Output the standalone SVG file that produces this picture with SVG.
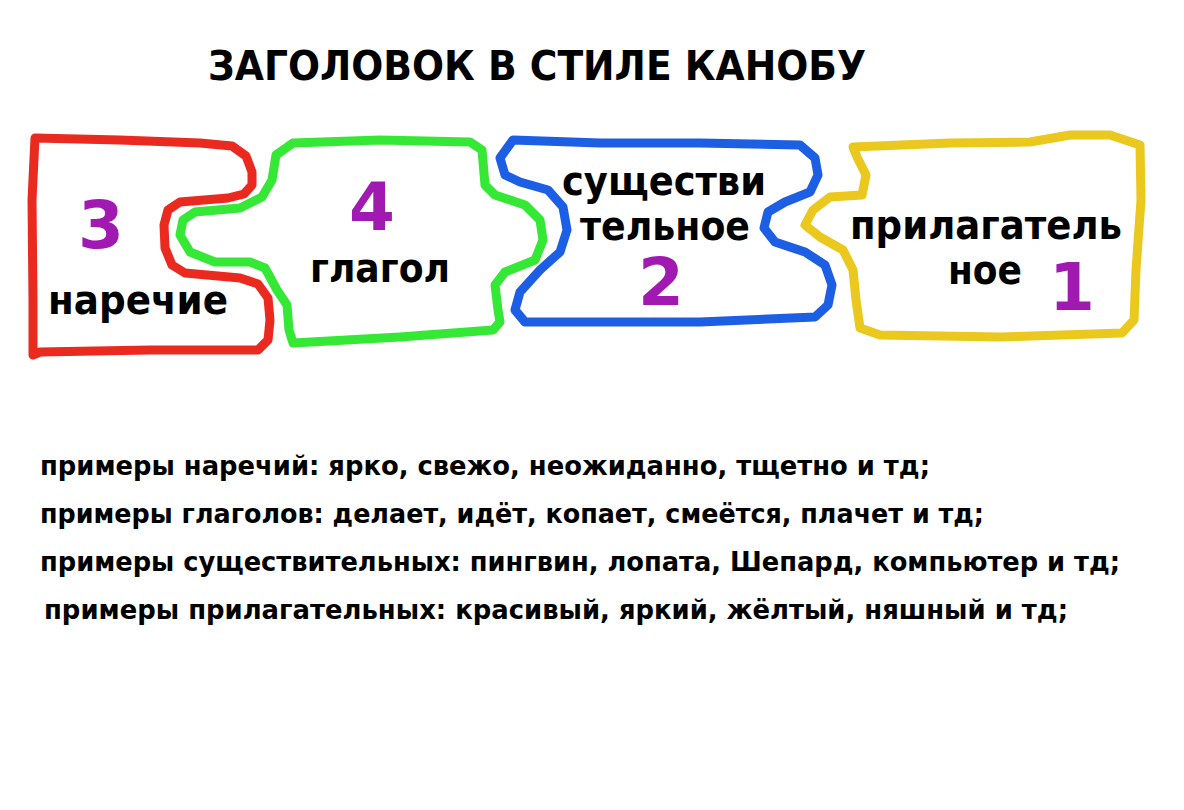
<svg xmlns="http://www.w3.org/2000/svg" width="1184" height="810" viewBox="0 0 1184 810">
<style>
.t{font-family:"DejaVu Sans","Noto Sans",sans-serif;font-weight:bold;fill:#000}
.n{font-family:"DejaVu Sans","Noto Sans",sans-serif;font-weight:bold;fill:#a01ab2;font-size:66px;text-anchor:middle}
.o{fill:none;stroke-width:9;stroke-linejoin:round;stroke-linecap:round}
</style>
<rect width="1184" height="810" fill="#fff"/>
<text class="t" x="208" y="80" font-size="41" textLength="658" lengthAdjust="spacingAndGlyphs">ЗАГОЛОВОК В СТИЛЕ КАНОБУ</text>
<g id="connectors"></g>
<g id="node-3">
<path class="o" stroke="#ea2a1e" d="M35,138 L120,140 L200,143 L232,146 L246,156 L252,172 L252,185 L244,194 L228,198 L180,202 L168,210 L164,225 L165,248 L172,265 L185,273 L240,278 L258,284 L268,298 L270,320 L268,340 L258,350 L150,350 L40,352 L33,355 L33,300 L32,200 Z"/>
<text class="n" x="101" y="248">3</text>
<text class="t" x="48" y="314" font-size="41" textLength="180" lengthAdjust="spacingAndGlyphs">наречие</text>
</g>
<g id="node-4">
<path class="o" stroke="#35e835" d="M293,143 L380,140 L470,142 L482,150 L485,185 L495,195 L525,205 L540,220 L543,240 L535,260 L505,272 L495,285 L498,310 L500,322 L493,330 L400,337 L293,343 L289,330 L287,305 L277,290 L265,268 L250,262 L215,262 L190,252 L180,235 L183,220 L195,212 L240,208 L262,197 L272,180 L276,155 Z"/>
<text class="n" x="372" y="230">4</text>
<text class="t" x="310" y="282" font-size="41" textLength="140" lengthAdjust="spacingAndGlyphs">глагол</text>
</g>
<g id="node-2">
<path class="o" stroke="#1c5fe4" d="M513,140 L600,143 L700,143 L800,145 L815,158 L818,175 L810,192 L785,202 L768,212 L764,228 L775,242 L805,252 L825,265 L832,285 L828,305 L815,317 L700,322 L600,322 L525,322 L515,310 L520,292 L540,270 L560,252 L567,230 L563,207 L548,190 L520,182 L505,175 L500,158 Z"/>
<text class="t" x="562" y="195" font-size="41" textLength="204" lengthAdjust="spacingAndGlyphs">существи</text>
<text class="t" x="580" y="240" font-size="41" textLength="170" lengthAdjust="spacingAndGlyphs">тельное</text>
<text class="n" x="661" y="305">2</text>
</g>
<g id="node-1">
<path class="o" stroke="#eac81e" d="M853,147 L950,143 L1030,142 L1070,135 L1110,135 L1140,145 L1141,200 L1136,270 L1134,320 L1122,333 L1000,337 L880,335 L860,328 L856,300 L853,270 L843,250 L820,237 L805,225 L813,210 L830,197 L862,195 L866,175 L857,157 Z"/>
<text class="t" x="850" y="239" font-size="41" textLength="272" lengthAdjust="spacingAndGlyphs">прилагатель</text>
<text class="t" x="948" y="284" font-size="41" textLength="74" lengthAdjust="spacingAndGlyphs">ное</text>
<text class="n" x="1072" y="310">1</text>
</g>
<g id="examples">
<text class="t" x="40" y="475" font-size="26" textLength="890" lengthAdjust="spacingAndGlyphs">примеры наречий: ярко, свежо, неожиданно, тщетно и тд;</text>
<text class="t" x="40" y="523" font-size="26" textLength="944" lengthAdjust="spacingAndGlyphs">примеры глаголов: делает, идёт, копает, смеётся, плачет и тд;</text>
<text class="t" x="40" y="571" font-size="26" textLength="1080" lengthAdjust="spacingAndGlyphs">примеры существительных: пингвин, лопата, Шепард, компьютер и тд;</text>
<text class="t" x="44" y="619" font-size="26" textLength="1024" lengthAdjust="spacingAndGlyphs">примеры прилагательных: красивый, яркий, жёлтый, няшный и тд;</text>
</g>
</svg>
